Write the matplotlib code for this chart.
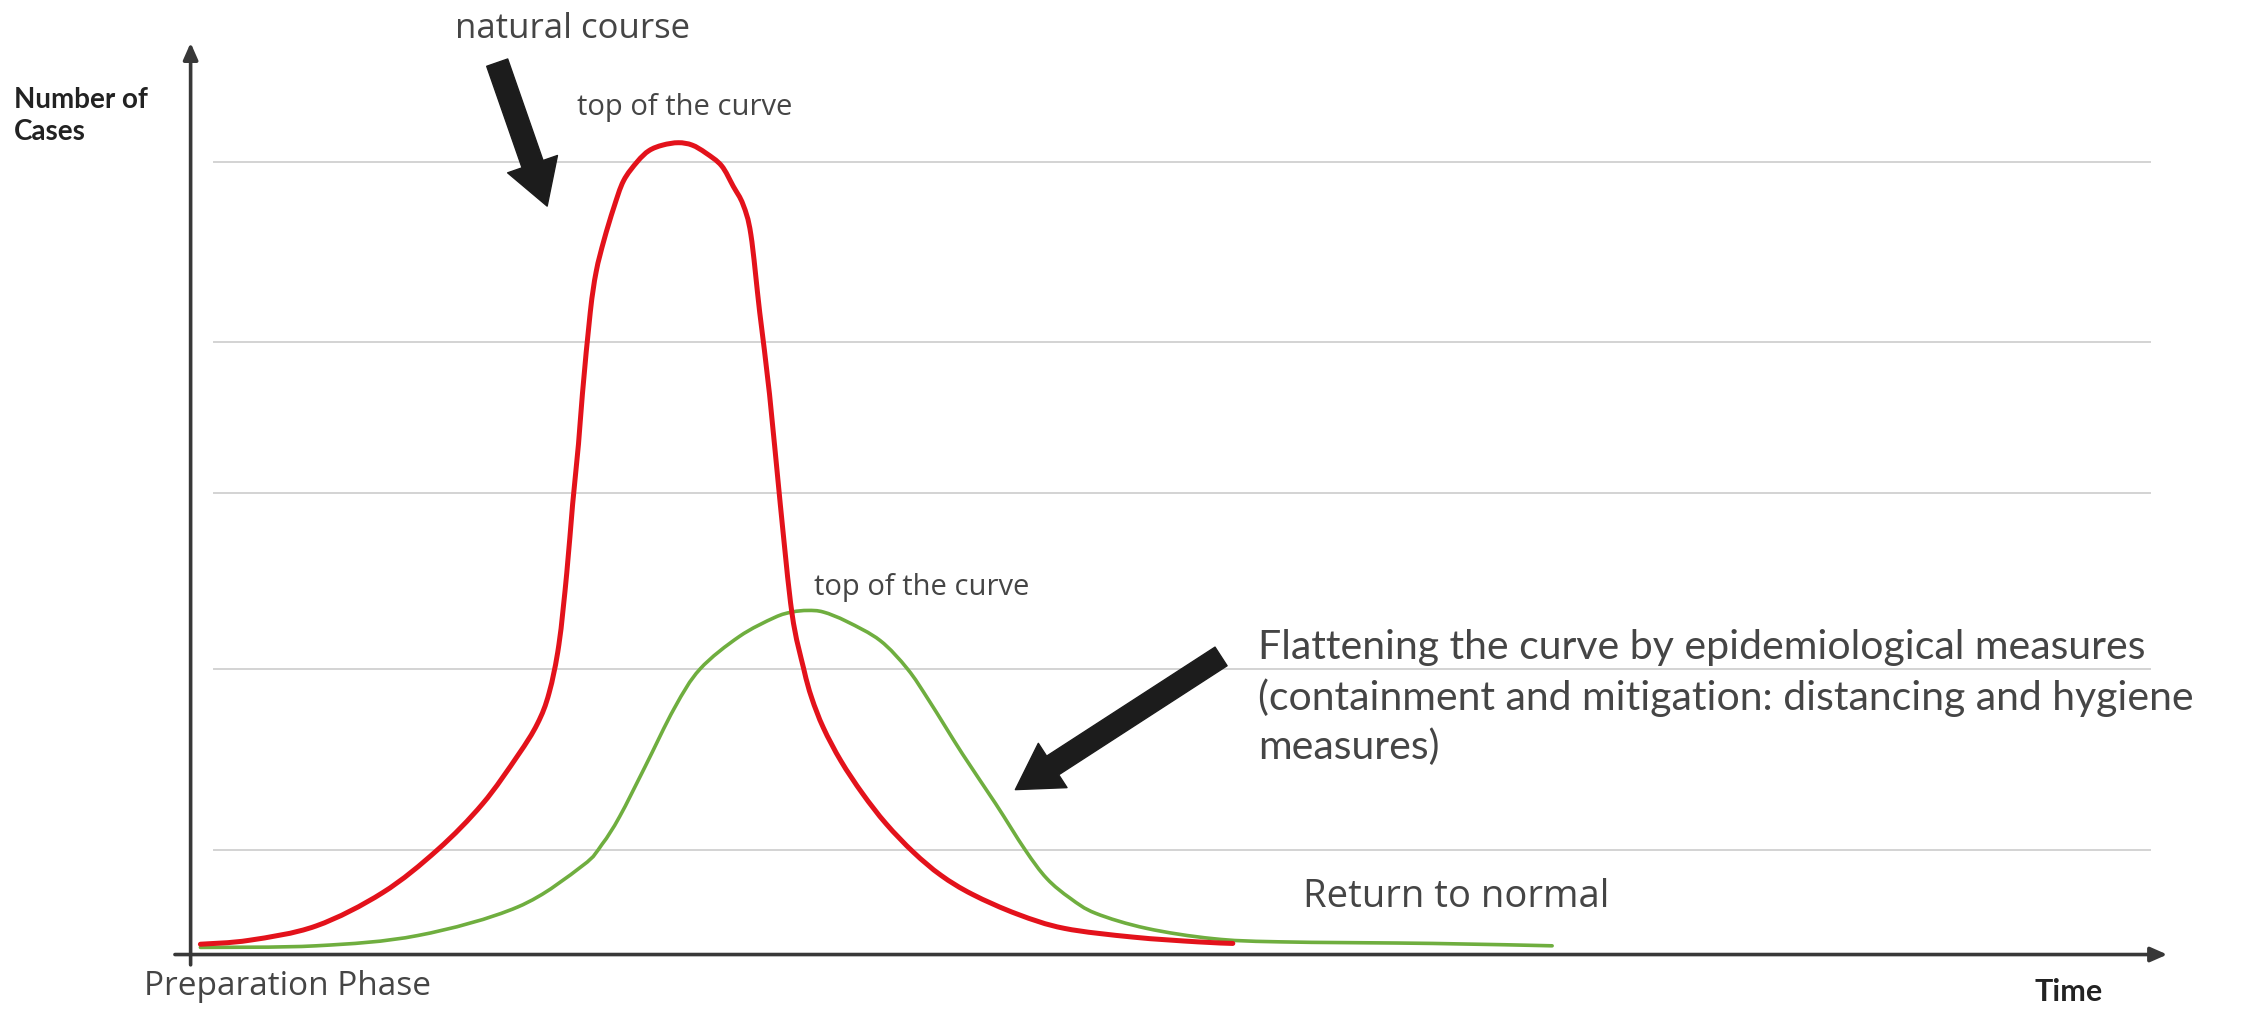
import matplotlib
matplotlib.use("Agg")
import matplotlib.pyplot as plt
import numpy as np
from matplotlib.path import Path
from matplotlib.patches import PathPatch

# --- data (time units 0..100, cases: top gridline = 100) ---
time_red = [0.5, 3.0, 6.4, 9.8, 12.6, 14.9, 16.7, 17.7, 18.3, 18.8, 19.2, 19.5,
            19.8, 20.0, 20.4, 20.7, 21.1, 21.6, 22.1, 22.8, 23.4, 24.1, 24.9,
            25.6, 26.3, 27.1, 27.7, 28.2, 28.6, 29.05, 29.55, 30.1, 30.7,
            31.3, 31.7, 32.3, 33.2, 34.3, 35.5, 36.9, 38.3, 39.9, 42.2, 44.6,
            48.1, 51.4, 53.2]
cases_red = [1.3, 1.8, 3.6, 7.8, 13.2, 19.0, 25.1, 29.1, 33.0, 39.1, 48.1, 56.8,
             64.4, 70.7, 81.0, 86.1, 90.1, 94.2, 97.6, 100.0, 101.4, 102.1, 102.4,
             102.1, 101.1, 99.5, 96.9, 94.6, 90.8, 81.0, 70.7, 56.8, 43.0,
             36.0, 32.4, 28.6, 24.4, 20.3, 16.5, 12.9, 10.0, 7.6, 5.1, 3.3,
             2.2, 1.6, 1.4]

time_green = [0.5, 6.4, 11.6, 16.7, 20.0, 21.0, 21.9, 23.2, 24.7, 26.0, 28.0,
              29.8, 30.7, 31.5, 32.3, 33.5, 35.2, 36.6, 37.7, 39.4, 41.1, 42.6,
              43.7, 44.9, 46.2, 48.8, 52.2, 55.6, 63.4, 69.5]
cases_green = [0.9, 1.1, 2.4, 6.0, 11.2, 13.9, 17.4, 23.7, 31.1, 36.0, 40.1,
               42.5, 43.2, 43.4, 43.2, 42.0, 39.6, 36.0, 32.0, 25.3, 19.0, 13.2,
               9.6, 7.1, 5.2, 3.3, 2.0, 1.6, 1.4, 1.1]

grid_levels = [13.2, 36.0, 58.2, 77.2, 100.0]

flatten_lines = ["Flattening the curve by epidemiological measures",
                 "(containment and mitigation: distancing and hygiene",
                 "measures)"]

RED = "#e3121b"
GREEN = "#6fae3f"
GRAY_TXT = "#454545"
AXIS_COL = "#383838"


def smooth_path(xs, ys):
    # Catmull-Rom through the read points, drawn as cubic Bezier segments
    p = np.column_stack([xs, ys])
    p = np.vstack([p[0], p, p[-1]])
    verts = [tuple(p[1])]
    codes = [Path.MOVETO]
    for i in range(1, len(p) - 2):
        c1 = p[i] + (p[i + 1] - p[i - 1]) / 6.0
        c2 = p[i + 1] - (p[i + 2] - p[i]) / 6.0
        verts += [tuple(c1), tuple(c2), tuple(p[i + 1])]
        codes += [Path.CURVE4] * 3
    return Path(verts, codes)


def main():
    fig = plt.figure(figsize=(22.47, 10.09), dpi=100)
    ax = fig.add_axes([0, 0, 1, 1])
    ax.set_xlim(-9.73, 104.97)
    ax.set_ylim(-6.87, 120.4)
    ax.axis("off")

    # light horizontal gridlines
    for lv in grid_levels:
        ax.plot([1.2, 100.0], [lv, lv], color="#d3d3d3", lw=1.4, zorder=1)

    # axes with arrow heads
    head = dict(arrowstyle="-|>,head_length=0.5,head_width=0.22",
                mutation_scale=20, color=AXIS_COL, lw=2.6, shrinkA=0, shrinkB=0)
    ax.annotate("", xy=(100.9, 0), xytext=(-0.8, 0), arrowprops=head, zorder=2)
    ax.annotate("", xy=(0, 115.0), xytext=(0, -1.3), arrowprops=head, zorder=2)

    # curves
    ax.add_patch(PathPatch(smooth_path(time_green, cases_green), fill=False,
                           edgecolor=GREEN, lw=2.6, zorder=3, capstyle="round"))
    ax.add_patch(PathPatch(smooth_path(time_red, cases_red), fill=False,
                           edgecolor=RED, lw=3.6, zorder=4, capstyle="round"))

    # big black arrows
    big = dict(arrowstyle="simple,head_length=1.6,head_width=1.9,tail_width=0.8",
               mutation_scale=20, color="#1c1c1c", shrinkA=0, shrinkB=0)
    ax.annotate("", xy=(18.2, 94.4), xytext=(15.65, 112.5), arrowprops=big)
    ax.annotate("", xy=(42.1, 20.8), xytext=(52.6, 37.6), arrowprops=big)

    # texts
    ax.text(19.5, 116.7, "natural course", fontsize=25, family="Open Sans",
            color=GRAY_TXT, ha="center", va="center")
    ax.text(-9.0, 105.8, "Number of\nCases", fontsize=20, family="Lato",
            fontweight="bold", color="#222222", ha="left", va="center",
            linespacing=1.3)
    ax.text(19.7, 106.9, "top of the curve", fontsize=21, family="Open Sans",
            color=GRAY_TXT, ha="left", va="center")
    ax.text(31.8, 46.3, "top of the curve", fontsize=21, family="Open Sans",
            color=GRAY_TXT, ha="left", va="center")
    for i, line in enumerate(flatten_lines):
        ax.text(54.5, 38.7 - i * 6.3, line, fontsize=29.5, family="Lato",
                color=GRAY_TXT, ha="left", va="center")
    ax.text(56.8, 7.2, "Return to normal", fontsize=27.5, family="Open Sans",
            color=GRAY_TXT, ha="left", va="center")
    ax.text(-2.4, -4.0, "Preparation Phase", fontsize=24, family="Open Sans",
            color=GRAY_TXT, ha="left", va="center")
    ax.text(94.1, -4.7, "Time", fontsize=22, family="Lato", fontweight="bold",
            color="#222222", ha="left", va="center")

    fig.savefig("out.png", dpi=100, facecolor="white")


if __name__ == "__main__":
    main()
